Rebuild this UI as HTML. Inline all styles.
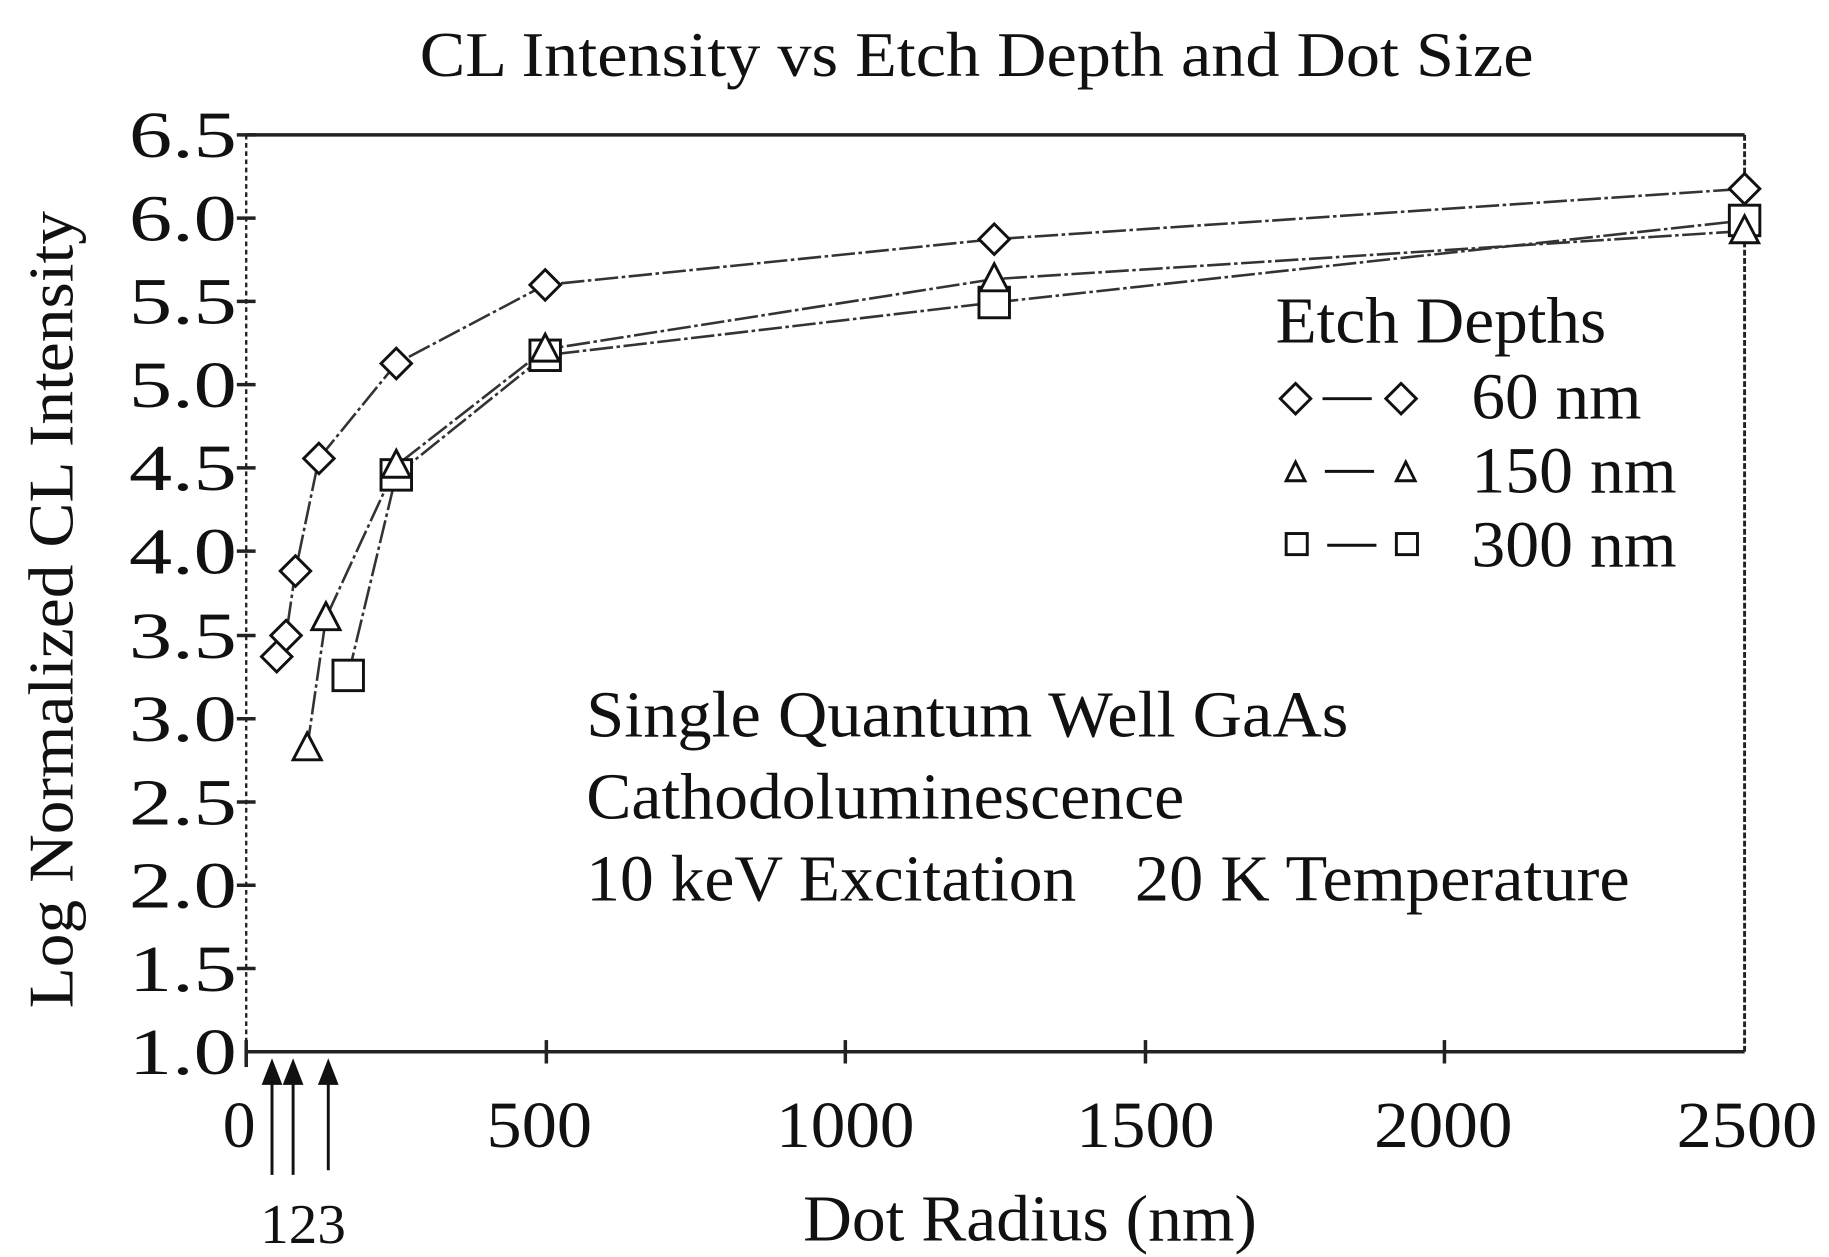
<!DOCTYPE html>
<html><head><style>html,body{margin:0;padding:0;background:#fff;}svg{display:block}</style></head>
<body>
<svg width="1829" height="1257" viewBox="0 0 1560 1072" preserveAspectRatio="none" xmlns="http://www.w3.org/2000/svg" font-family="Liberation Serif, serif" fill="#111">
<text x="358" y="65" font-size="54" textLength="950" lengthAdjust="spacingAndGlyphs">CL Intensity vs Etch Depth and Dot Size</text>
<g stroke="#222" fill="none">
<line x1="210" y1="115" x2="1488" y2="115" stroke-width="3"/>
<line x1="210" y1="897" x2="1488" y2="897" stroke-width="3"/>
<line x1="210" y1="115" x2="210" y2="897" stroke-width="2" stroke-dasharray="4,3"/>
<line x1="1488" y1="115" x2="1488" y2="897" stroke-width="2.5" stroke-dasharray="5,2"/>
</g>
<g stroke="#222" stroke-width="3">
<line x1="202" y1="115" x2="218" y2="115"/><line x1="202" y1="186" x2="218" y2="186"/><line x1="202" y1="257" x2="218" y2="257"/><line x1="202" y1="328" x2="218" y2="328"/><line x1="202" y1="399" x2="218" y2="399"/><line x1="202" y1="470" x2="218" y2="470"/><line x1="202" y1="542" x2="218" y2="542"/><line x1="202" y1="613" x2="218" y2="613"/><line x1="202" y1="684" x2="218" y2="684"/><line x1="202" y1="755" x2="218" y2="755"/><line x1="202" y1="826" x2="218" y2="826"/>
<line x1="210" y1="887" x2="210" y2="910"/><line x1="466" y1="887" x2="466" y2="907"/><line x1="721" y1="887" x2="721" y2="907"/><line x1="977" y1="887" x2="977" y2="907"/><line x1="1232" y1="887" x2="1232" y2="907"/>
</g>
<g font-size="56">
<text x="110" y="134" textLength="92" lengthAdjust="spacingAndGlyphs">6.5</text><text x="110" y="205" textLength="92" lengthAdjust="spacingAndGlyphs">6.0</text><text x="110" y="276" textLength="92" lengthAdjust="spacingAndGlyphs">5.5</text><text x="110" y="347" textLength="92" lengthAdjust="spacingAndGlyphs">5.0</text><text x="110" y="418" textLength="92" lengthAdjust="spacingAndGlyphs">4.5</text><text x="110" y="489" textLength="92" lengthAdjust="spacingAndGlyphs">4.0</text><text x="110" y="561" textLength="92" lengthAdjust="spacingAndGlyphs">3.5</text><text x="110" y="632" textLength="92" lengthAdjust="spacingAndGlyphs">3.0</text><text x="110" y="703" textLength="92" lengthAdjust="spacingAndGlyphs">2.5</text><text x="110" y="774" textLength="92" lengthAdjust="spacingAndGlyphs">2.0</text><text x="110" y="845" textLength="92" lengthAdjust="spacingAndGlyphs">1.5</text><text x="110" y="916" textLength="92" lengthAdjust="spacingAndGlyphs">1.0</text>
</g>
<g font-size="56">
<text x="190" y="978" textLength="28" lengthAdjust="spacingAndGlyphs">0</text>
<text x="415" y="978" textLength="90" lengthAdjust="spacingAndGlyphs">500</text>
<text x="662" y="978" textLength="118" lengthAdjust="spacingAndGlyphs">1000</text>
<text x="918" y="978" textLength="118" lengthAdjust="spacingAndGlyphs">1500</text>
<text x="1172" y="978" textLength="118" lengthAdjust="spacingAndGlyphs">2000</text>
<text x="1430" y="978" textLength="120" lengthAdjust="spacingAndGlyphs">2500</text>
</g>
<text x="685" y="1058" font-size="56" textLength="387" lengthAdjust="spacingAndGlyphs">Dot Radius (nm)</text>
<text x="222" y="1060" font-size="48" textLength="73" lengthAdjust="spacingAndGlyphs">123</text>
<text transform="translate(62,860) rotate(-90)" font-size="54" textLength="680" lengthAdjust="spacingAndGlyphs">Log Normalized CL Intensity</text>
<g stroke="#111" stroke-width="2.5" fill="#111">
<line x1="232" y1="1002" x2="232" y2="918"/><line x1="250" y1="1002" x2="250" y2="918"/><line x1="280" y1="998" x2="280" y2="918"/>
<path d="M225 924 L232 906 L239 924Z"/><path d="M243 924 L250 906 L257 924Z"/><path d="M273 924 L280 906 L287 924Z"/>
</g>
<g fill="none" stroke="#333" stroke-width="2.2" stroke-dasharray="20,3,3,3">
<polyline points="236,560 244,542 252,487 272,391 338,310 465,243 848,204 1488,161"/>
<polyline points="262,638 278,527 338,397 465,298 848,238 1488,197"/>
<polyline points="297,576 338,405 465,303 848,258 1488,188"/>
</g>
<defs>
<path id="d" d="M0,-13 L13,0 L0,13 L-13,0Z" fill="#fff" stroke="#111" stroke-width="2.5"/>
<path id="t" d="M0,-13 L12,10 L-12,10Z" fill="#fff" stroke="#111" stroke-width="2.5"/>
<rect id="s" x="-13" y="-13" width="26" height="26" fill="#fff" stroke="#111" stroke-width="2.5"/>
</defs>
<use href="#s" x="297" y="576"/><use href="#s" x="338" y="405"/><use href="#s" x="465" y="303"/><use href="#s" x="848" y="258"/><use href="#s" x="1488" y="188"/>
<use href="#t" x="262" y="638"/><use href="#t" x="278" y="527"/><use href="#t" x="338" y="397"/><use href="#t" x="465" y="298"/><use href="#t" x="848" y="238"/><use href="#t" x="1488" y="197"/>
<use href="#d" x="236" y="560"/><use href="#d" x="244" y="542"/><use href="#d" x="252" y="487"/><use href="#d" x="272" y="391"/><use href="#d" x="338" y="310"/><use href="#d" x="465" y="243"/><use href="#d" x="848" y="204"/><use href="#d" x="1488" y="161"/>
<text x="1088" y="292" font-size="56" textLength="282" lengthAdjust="spacingAndGlyphs">Etch Depths</text>
<g font-size="56"><text x="1255" y="357" textLength="145" lengthAdjust="spacingAndGlyphs">60 nm</text><text x="1255" y="420" textLength="175" lengthAdjust="spacingAndGlyphs">150 nm</text><text x="1255" y="483" textLength="175" lengthAdjust="spacingAndGlyphs">300 nm</text></g>
<g stroke="#111" stroke-width="2.5"><line x1="1128" y1="340" x2="1170" y2="340"/><line x1="1130" y1="402" x2="1172" y2="402"/><line x1="1132" y1="465" x2="1174" y2="465"/></g>
<use href="#d" x="1105" y="340"/><use href="#d" x="1195" y="340"/>
<path d="M1105,394 L1113,410 L1097,410Z M1199,394 L1207,410 L1191,410Z" fill="#fff" stroke="#111" stroke-width="2.5"/>
<rect x="1097" y="455" width="18" height="18" fill="#fff" stroke="#111" stroke-width="2.5"/><rect x="1191" y="455" width="18" height="18" fill="#fff" stroke="#111" stroke-width="2.5"/>
<g font-size="56"><text x="500" y="628" textLength="650" lengthAdjust="spacingAndGlyphs">Single Quantum Well GaAs</text><text x="500" y="698" textLength="510" lengthAdjust="spacingAndGlyphs">Cathodoluminescence</text><text x="500" y="768" textLength="418" lengthAdjust="spacingAndGlyphs">10 keV Excitation</text><text x="968" y="768" textLength="422" lengthAdjust="spacingAndGlyphs">20 K Temperature</text></g>
</svg>
</body></html>
